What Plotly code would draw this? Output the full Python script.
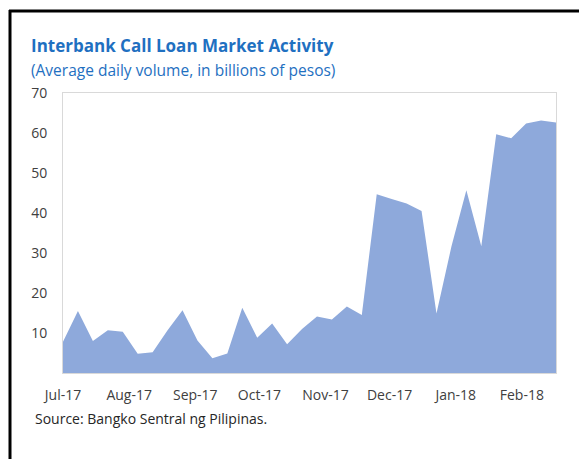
import pandas as pd
import plotly.graph_objects as go

# Weekly average daily volume of interbank call loans (billions of pesos)
week_start = pd.date_range("2017-07-01", periods=34, freq="7D")
volume = [7.8, 15.5, 8.0, 10.7, 10.3, 4.8, 5.2, 10.7, 15.7, 8.1,
          3.7, 4.9, 16.3, 8.8, 12.4, 7.2, 11.0, 14.1, 13.4, 16.6,
          14.5, 44.7, 43.5, 42.4, 40.5, 14.9, 31.6, 45.7, 31.7, 59.7,
          58.7, 62.4, 63.1, 62.6]

month_ticks = pd.date_range("2017-07-01", "2018-02-01", freq="MS")
month_labels = ["Jul-17", "Aug-17", "Sep-17", "Oct-17", "Nov-17",
                "Dec-17", "Jan-18", "Feb-18"]
y_ticks = [10, 20, 30, 40, 50, 60, 70]

W, H = 579, 459
L, R, T, B = 63, 23, 93, 86
pw, ph = W - L - R, H - T - B


def px(x):
    return (x - L) / pw


def py(y):
    return (H - B - y) / ph


FONT = "Open Sans"
BLUE = "#1F70C1"

fig = go.Figure()
fig.add_trace(go.Scatter(
    x=week_start, y=volume, mode="lines", fill="tozeroy",
    fillcolor="#8EA9DB", line=dict(width=0, color="#8EA9DB"),
    hoverinfo="x+y", showlegend=False,
))

fig.update_layout(
    width=W, height=H,
    margin=dict(l=L, r=R, t=T, b=B),
    paper_bgcolor="white", plot_bgcolor="white",
    font=dict(family=FONT, size=13, color="#404040"),
    xaxis=dict(
        range=[week_start[0], week_start[-1]],
        tickvals=month_ticks, ticktext=month_labels,
        showgrid=False, zeroline=False,
        showline=True, linecolor="#D9D9D9", linewidth=1, mirror=True,
        ticks="", ticklabelstandoff=9,
        tickfont=dict(size=14, color="#404040"),
    ),
    yaxis=dict(
        range=[0, 70], tickvals=y_ticks,
        showgrid=False, zeroline=False,
        showline=True, linecolor="#D9D9D9", linewidth=1, mirror=True,
        ticks="", ticklabelstandoff=12,
        tickfont=dict(size=14, color="#404040"),
    ),
    shapes=[
        dict(type="line", xref="paper", yref="paper",
             x0=px(9), x1=px(W + 2), y0=py(11), y1=py(11),
             line=dict(color="black", width=3)),
        dict(type="line", xref="paper", yref="paper",
             x0=px(10), x1=px(10), y0=py(10), y1=py(H + 2),
             line=dict(color="black", width=3)),
    ],
    annotations=[
        dict(text="<b>Interbank Call Loan Market Activity</b>",
             xref="paper", yref="paper", x=px(29), y=py(46),
             xanchor="left", yanchor="middle", showarrow=False,
             font=dict(family=FONT, size=17, color=BLUE)),
        dict(text="(Average daily volume, in billions of pesos)",
             xref="paper", yref="paper", x=px(29), y=py(70),
             xanchor="left", yanchor="middle", showarrow=False,
             font=dict(family=FONT, size=15.5, color=BLUE)),
        dict(text="Source: Bangko Sentral ng Pilipinas.",
             xref="paper", yref="paper", x=px(33), y=py(418),
             xanchor="left", yanchor="middle", showarrow=False,
             font=dict(family=FONT, size=14, color="#262626")),
    ],
)

fig.write_html("out.html")
